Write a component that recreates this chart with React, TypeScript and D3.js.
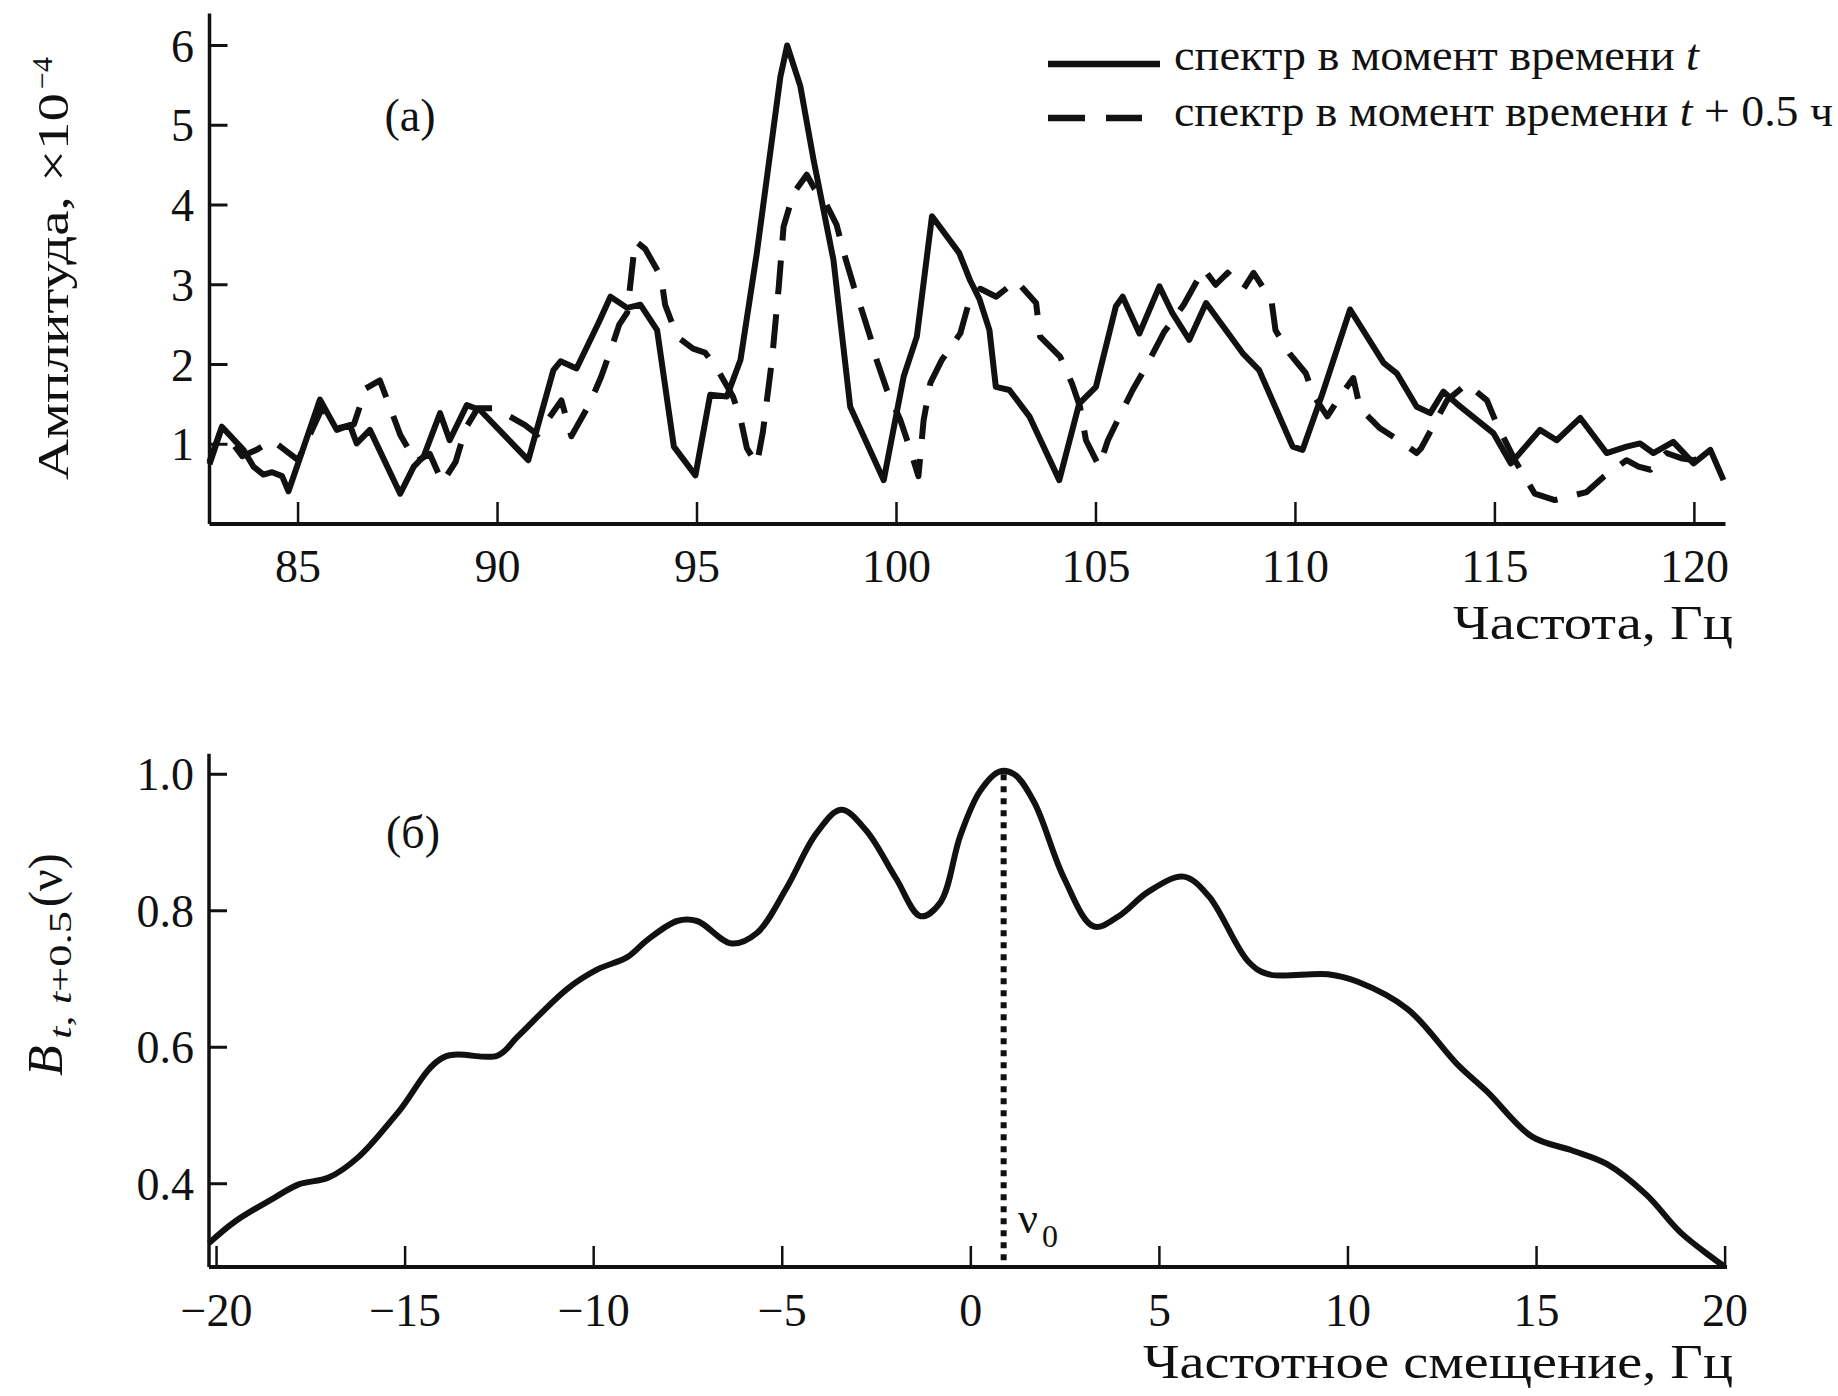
import React from 'react';
import * as d3 from 'd3';

// (а) spectra: frequency, Hz -> amplitude, x1e-4
const freqSolid = [82.78, 83.09, 83.63, 83.88, 84.13, 84.35, 84.6, 84.76, 85.55, 85.97, 86.3, 86.47, 86.8, 87.56, 87.9, 88.15, 88.56, 88.8, 89.23, 89.56, 90.77, 91.4, 91.58, 91.98, 92.53, 92.83, 93.25, 93.58, 94.0, 94.42, 94.96, 95.33, 95.75, 96.09, 96.5, 97.09, 97.26, 97.59, 97.92, 98.42, 98.84, 99.68, 100.18, 100.51, 100.89, 101.57, 101.85, 102.08, 102.33, 102.49, 102.83, 103.33, 104.08, 104.58, 105.0, 105.5, 105.67, 106.09, 106.59, 106.92, 107.34, 107.76, 108.68, 109.09, 109.93, 110.18, 110.68, 111.37, 112.21, 112.54, 113.04, 113.38, 113.71, 114.04, 114.96, 115.4, 116.13, 116.55, 117.14, 117.8, 118.3, 118.64, 118.97, 119.47, 119.98, 120.4, 120.73];
const ampSolid = [0.78, 1.22, 0.93, 0.72, 0.62, 0.65, 0.6, 0.41, 1.56, 1.18, 1.24, 1.01, 1.18, 0.38, 0.72, 0.85, 1.39, 1.05, 1.49, 1.43, 0.8, 1.93, 2.04, 1.95, 2.52, 2.85, 2.71, 2.75, 2.43, 0.97, 0.61, 1.62, 1.6, 2.06, 3.4, 5.61, 6.0, 5.49, 4.57, 3.31, 1.47, 0.55, 1.85, 2.35, 3.86, 3.4, 3.05, 2.82, 2.43, 1.72, 1.68, 1.35, 0.55, 1.51, 1.72, 2.73, 2.85, 2.39, 2.98, 2.64, 2.31, 2.77, 2.14, 1.93, 0.97, 0.93, 1.64, 2.69, 2.02, 1.89, 1.47, 1.39, 1.66, 1.51, 1.14, 0.76, 1.18, 1.05, 1.33, 0.89, 0.97, 1.01, 0.89, 1.03, 0.76, 0.93, 0.55];

const freqDashed = [82.78, 83.05, 83.3, 83.6, 83.96, 84.35, 85.0, 85.6, 86.0, 86.4, 86.7, 87.05, 87.3, 87.56, 87.95, 88.3, 88.62, 88.95, 89.2, 89.5, 89.9, 90.23, 90.69, 91.0, 91.6, 91.85, 92.3, 92.6, 92.85, 93.05, 93.25, 93.45, 93.7, 94.1, 94.2, 94.5, 94.9, 95.2, 95.5, 95.9, 96.1, 96.25, 96.5, 96.65, 96.88, 97.05, 97.17, 97.42, 97.75, 97.95, 98.2, 98.5, 98.68, 98.93, 99.1, 99.34, 99.5, 99.76, 100.1, 100.3, 100.55, 100.68, 100.85, 101.14, 101.6, 101.8, 102.1, 102.5, 103.0, 103.5, 103.6, 104.1, 104.4, 104.6, 104.75, 105.08, 105.3, 105.67, 105.92, 106.25, 106.7, 107.2, 107.7, 108.0, 108.3, 108.7, 108.95, 109.4, 109.5, 109.85, 110.26, 110.47, 110.8, 111.12, 111.45, 111.62, 112.12, 112.71, 113.04, 113.15, 113.8, 114.3, 114.8, 115.05, 115.5, 116.0, 116.5, 117.3, 117.72, 118.3, 118.6, 118.9, 119.3, 119.7, 120.0, 120.5];
const ampDashed = [0.75, 1.15, 1.05, 0.85, 0.93, 1.05, 0.8, 1.45, 1.2, 1.25, 1.7, 1.8, 1.47, 1.12, 0.78, 0.88, 0.52, 0.78, 1.2, 1.45, 1.45, 1.37, 1.24, 1.12, 1.55, 1.1, 1.5, 1.85, 2.2, 2.5, 2.65, 3.55, 3.45, 3.1, 2.75, 2.35, 2.2, 2.15, 1.95, 1.6, 1.3, 0.95, 0.75, 1.15, 2.06, 2.98, 3.73, 4.15, 4.38, 4.2, 4.05, 3.75, 3.4, 2.98, 2.73, 2.35, 2.06, 1.68, 1.3, 1.0, 0.6, 1.3, 1.77, 2.06, 2.39, 2.75, 2.95, 2.85, 3.05, 2.77, 2.35, 2.1, 1.76, 1.47, 1.05, 0.72, 1.05, 1.43, 1.68, 1.97, 2.4, 2.75, 3.2, 3.0, 3.15, 2.95, 3.15, 2.8, 2.43, 2.14, 1.89, 1.6, 1.35, 1.6, 1.83, 1.45, 1.2, 1.01, 0.89, 0.95, 1.55, 1.76, 1.55, 1.25, 0.8, 0.38, 0.3, 0.4, 0.59, 0.8, 0.72, 0.68, 0.89, 0.82, 0.8, 0.93];

const freqTicks = [85, 90, 95, 100, 105, 110, 115, 120];
const ampTicks = [1, 2, 3, 4, 5, 6];

// (б) correlation vs frequency shift
const shift = [-20.2, -19.5, -18.48, -17.82, -17.03, -16.24, -15.18, -13.99, -12.54, -12.01, -10.69, -9.9, -9.11, -8.58, -7.79, -7.26, -6.34, -5.68, -4.89, -4.1, -3.44, -2.78, -1.99, -1.33, -0.8, -0.28, 0.24, 0.76, 1.15, 1.68, 2.47, 3.26, 3.92, 4.71, 5.64, 6.3, 7.35, 7.88, 9.47, 10.26, 11.58, 12.9, 13.69, 14.88, 15.93, 16.86, 17.91, 18.83, 19.95];
const corr = [0.313, 0.345, 0.379, 0.399, 0.409, 0.439, 0.505, 0.585, 0.588, 0.616, 0.686, 0.714, 0.732, 0.757, 0.785, 0.785, 0.752, 0.767, 0.833, 0.913, 0.948, 0.918, 0.848, 0.792, 0.813, 0.91, 0.975, 1.004, 1.0, 0.959, 0.848, 0.777, 0.792, 0.828, 0.85, 0.822, 0.726, 0.707, 0.707, 0.696, 0.656, 0.575, 0.535, 0.469, 0.449, 0.429, 0.384, 0.328, 0.28];
const shiftTicks = [-20, -15, -10, -5, 0, 5, 10, 15, 20];
const corrTicks = [0.4, 0.6, 0.8, 1.0];
const nu0 = 0.87;

const FONT = '"Liberation Serif", "Times New Roman", serif';
const INK = '#111';

const minus = (v: number) => String(v).replace('-', '\u2212');

export default function App() {
  const xA = d3.scaleLinear().domain([82.78, 120.78]).range([209.5, 1725.5]);
  const yA = d3.scaleLinear().domain([0, 6.4]).range([524, 13.6]);
  const xB = d3.scaleLinear().domain([-20.2, 20.05]).range([209, 1727]);
  const yB = d3.scaleLinear().domain([0.278, 1.03]).range([1267, 753.8]);

  const lineA = d3.line<[number, number]>().x(d => xA(d[0])).y(d => yA(d[1]));
  const solidPath = lineA(freqSolid.map((f, i) => [f, ampSolid[i]] as [number, number])) || '';
  const dashedPath = lineA(freqDashed.map((f, i) => [f, ampDashed[i]] as [number, number])) || '';

  const lineB = d3.line<[number, number]>()
    .x(d => xB(d[0]))
    .y(d => yB(d[1]))
    .curve(d3.curveCatmullRom.alpha(0.5));
  const corrPath = lineB(shift.map((s, i) => [s, corr[i]] as [number, number])) || '';

  const fmtB = d3.format('.1f');

  return (
    <svg width={1838} height={1396} style={{ position: 'absolute', left: 0, top: 0, background: '#fff' }}
      fontFamily={FONT} fill={INK}>
      <rect width={1838} height={1396} fill="#fff" />

      {/* ---------- (а) ---------- */}
      <g>
        <line x1={xA.range()[0]} x2={xA.range()[0]} y1={yA(6.4)} y2={yA(0)} stroke={INK} strokeWidth={3.5} />
        <line x1={xA.range()[0]} x2={xA.range()[1]} y1={yA(0)} y2={yA(0)} stroke={INK} strokeWidth={4} />
        {ampTicks.map(t => (
          <g key={'ya' + t}>
            <line x1={xA.range()[0]} x2={xA.range()[0] + 18} y1={yA(t)} y2={yA(t)} stroke={INK} strokeWidth={3} />
            <text x={194} y={yA(t) + 16} fontSize={46} textAnchor="end">{t}</text>
          </g>
        ))}
        {freqTicks.map(t => (
          <g key={'xa' + t}>
            <line x1={xA(t)} x2={xA(t)} y1={yA(0)} y2={yA(0) - 22} stroke={INK} strokeWidth={2.5} />
            <text x={xA(t)} y={582} fontSize={46} textAnchor="middle">{t}</text>
          </g>
        ))}
        <text x={1733} y={639} fontSize={48} textAnchor="end" textLength={280} lengthAdjust="spacingAndGlyphs">Частота, Гц</text>

        <g transform="translate(68,480) rotate(-90)">
          <text x={0} y={0} fontSize={44} textLength={387} lengthAdjust="spacingAndGlyphs">Амплитуда, ×10</text>
          <text x={391} y={-16} fontSize={30}>−4</text>
        </g>

        <text x={410} y={131} fontSize={46} textAnchor="middle">(а)</text>

        <path d={dashedPath} fill="none" stroke={INK} strokeWidth={6} strokeDasharray="34,20" strokeLinejoin="round" />
        <path d={solidPath} fill="none" stroke={INK} strokeWidth={6} strokeLinejoin="round" />

        {/* legend */}
        <line x1={1048} x2={1160} y1={64} y2={64} stroke={INK} strokeWidth={6.5} />
        <text x={1174} y={70} fontSize={44} textLength={525} lengthAdjust="spacingAndGlyphs">
          спектр в момент времени <tspan fontStyle="italic">t</tspan>
        </text>
        <line x1={1048} x2={1142} y1={118} y2={118} stroke={INK} strokeWidth={6.5} strokeDasharray="37,21" />
        <text x={1174} y={126} fontSize={44} textLength={659} lengthAdjust="spacingAndGlyphs">
          спектр в момент времени <tspan fontStyle="italic">t</tspan> + 0.5 ч
        </text>
      </g>

      {/* ---------- (б) ---------- */}
      <g>
        <line x1={209} x2={209} y1={yB(1.03)} y2={yB(0.278)} stroke={INK} strokeWidth={3.5} />
        <line x1={209} x2={1727} y1={yB(0.278)} y2={yB(0.278)} stroke={INK} strokeWidth={4} />
        {corrTicks.map(t => (
          <g key={'yb' + t}>
            <line x1={209} x2={227} y1={yB(t)} y2={yB(t)} stroke={INK} strokeWidth={3} />
            <text x={194} y={yB(t) + 16} fontSize={46} textAnchor="end">{fmtB(t)}</text>
          </g>
        ))}
        {shiftTicks.map(t => (
          <g key={'xb' + t}>
            <line x1={xB(t)} x2={xB(t)} y1={yB(0.278)} y2={yB(0.278) - 21} stroke={INK} strokeWidth={2.5} />
            <text x={xB(t)} y={1326} fontSize={46} textAnchor="middle">{minus(t)}</text>
          </g>
        ))}
        <text x={1733} y={1378} fontSize={48} textAnchor="end" textLength={590} lengthAdjust="spacingAndGlyphs">Частотное смещение, Гц</text>

        <g transform="translate(62,1076) rotate(-90)">
          <text x={0} y={0} fontSize={50} fontStyle="italic">B</text>
          <text x={37} y={9} fontSize={32} textLength={128} lengthAdjust="spacingAndGlyphs">
            <tspan fontStyle="italic">t</tspan>, <tspan fontStyle="italic">t</tspan>+0.5
          </text>
          <text x={169} y={0} fontSize={48}>(ν)</text>
        </g>

        <text x={413} y={848} fontSize={46} textAnchor="middle">(б)</text>

        <line x1={xB(nu0)} x2={xB(nu0)} y1={yB(1.0)} y2={yB(0.278)} stroke={INK} strokeWidth={6} strokeDasharray="6,6" />
        <text x={1018} y={1233} fontSize={44}>ν</text>
        <text x={1042} y={1247} fontSize={32}>0</text>

        <path d={corrPath} fill="none" stroke={INK} strokeWidth={6} strokeLinejoin="round" />
      </g>
    </svg>
  );
}
